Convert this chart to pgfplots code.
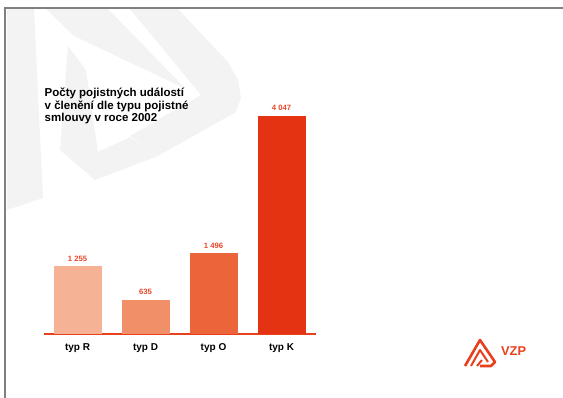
\documentclass[border=0pt]{standalone}
\usepackage{pgfplots}
\pgfplotsset{compat=1.18}
\usepackage{fontspec}
\setmainfont{Liberation Sans}
\definecolor{wm}{RGB}{243,243,243}
\definecolor{cR}{RGB}{245,178,148}
\definecolor{cD}{RGB}{241,144,104}
\definecolor{cO}{RGB}{235,100,58}
\definecolor{cK}{RGB}{227,51,18}
\definecolor{axred}{RGB}{232,64,28}
\definecolor{lblred}{RGB}{232,70,42}
\definecolor{frame}{RGB}{128,128,128}
\begin{document}
\begin{tikzpicture}
\useasboundingbox (0,0) rectangle (563pt,398pt);
\begin{scope}[shift={(0pt,398pt)},x=1pt,y=-1pt]
  % watermark
  \fill[wm] (7,9) -- (34,9) -- (43,198) -- (7,210) -- cycle;
  \fill[wm] (46,9) -- (108,9) -- (186,89) -- (74,36) -- cycle;
  \fill[wm] (130,9) -- (178,9) -- (228,62) -- (238,80) -- (241,98) -- (236,112) -- (158,156) -- (130,136) -- (201,95) -- cycle;
  \fill[wm] (68,46) -- (60,150) -- (95,180) -- (158,156) -- (130,137) -- (98,152) -- (86,70) -- cycle;
  % frame
  \draw[frame,line width=1.5pt] (5,398) -- (5,8) -- (563,8);
  % title
  \node[anchor=base west,inner sep=0pt,font=\bfseries\fontsize{11.5}{13}\selectfont] at (44.5,96.5) {Počty pojistných událostí};
  \node[anchor=base west,inner sep=0pt,font=\bfseries\fontsize{11.5}{13}\selectfont] at (44.5,109.3) {v členění dle typu pojistné};
  \node[anchor=base west,inner sep=0pt,font=\bfseries\fontsize{11.5}{13}\selectfont] at (44.5,122) {smlouvy v roce 2002};
  % logo
  \draw[axred,line width=2.6pt,line join=round,line cap=butt] (465,366) -- (480,340) -- (495,362) -- (491,366) -- (480,366);
  \draw[axred,line width=2pt,line join=round] (471,366) -- (480,350) -- (488,362);
  \draw[axred,line width=2pt,line join=round] (477,366) -- (482,360);
  \node[anchor=base west,inner sep=0pt,text=axred,font=\bfseries\fontsize{12.8}{14}\selectfont] at (501,355.7) {VZP};
\end{scope}
\begin{axis}[
  at={(44pt,64pt)}, anchor=south west,
  scale only axis, width=272pt, height=237pt,
  xmin=-0.4926, xmax=3.507, ymin=0, ymax=4400,
  axis y line=none,
  axis x line=bottom,
  x axis line style={axred,line width=2.3pt,-},
  xtick={0,1,2,3},
  xticklabels={typ R,typ D,typ O,typ K},
  major tick length=0pt,
  xticklabel style={font=\bfseries\fontsize{10}{12}\selectfont, anchor=base, yshift=-17pt},
  ybar, bar width=48pt, bar shift=0pt,
  point meta=explicit symbolic,
  nodes near coords,
  every node near coord/.append style={font=\bfseries\fontsize{7.7}{9}\selectfont, text=lblred, anchor=base, yshift=5.3pt, inner sep=0pt},
  clip=false,
]
\addplot[fill=cR, draw=none] coordinates {(0,1255) [1 255]};
\addplot[fill=cD, draw=none] coordinates {(1,635) [635]};
\addplot[fill=cO, draw=none] coordinates {(2,1496) [1 496]};
\addplot[fill=cK, draw=none] coordinates {(3,4047) [4 047]};
\end{axis}
\end{tikzpicture}
\end{document}
